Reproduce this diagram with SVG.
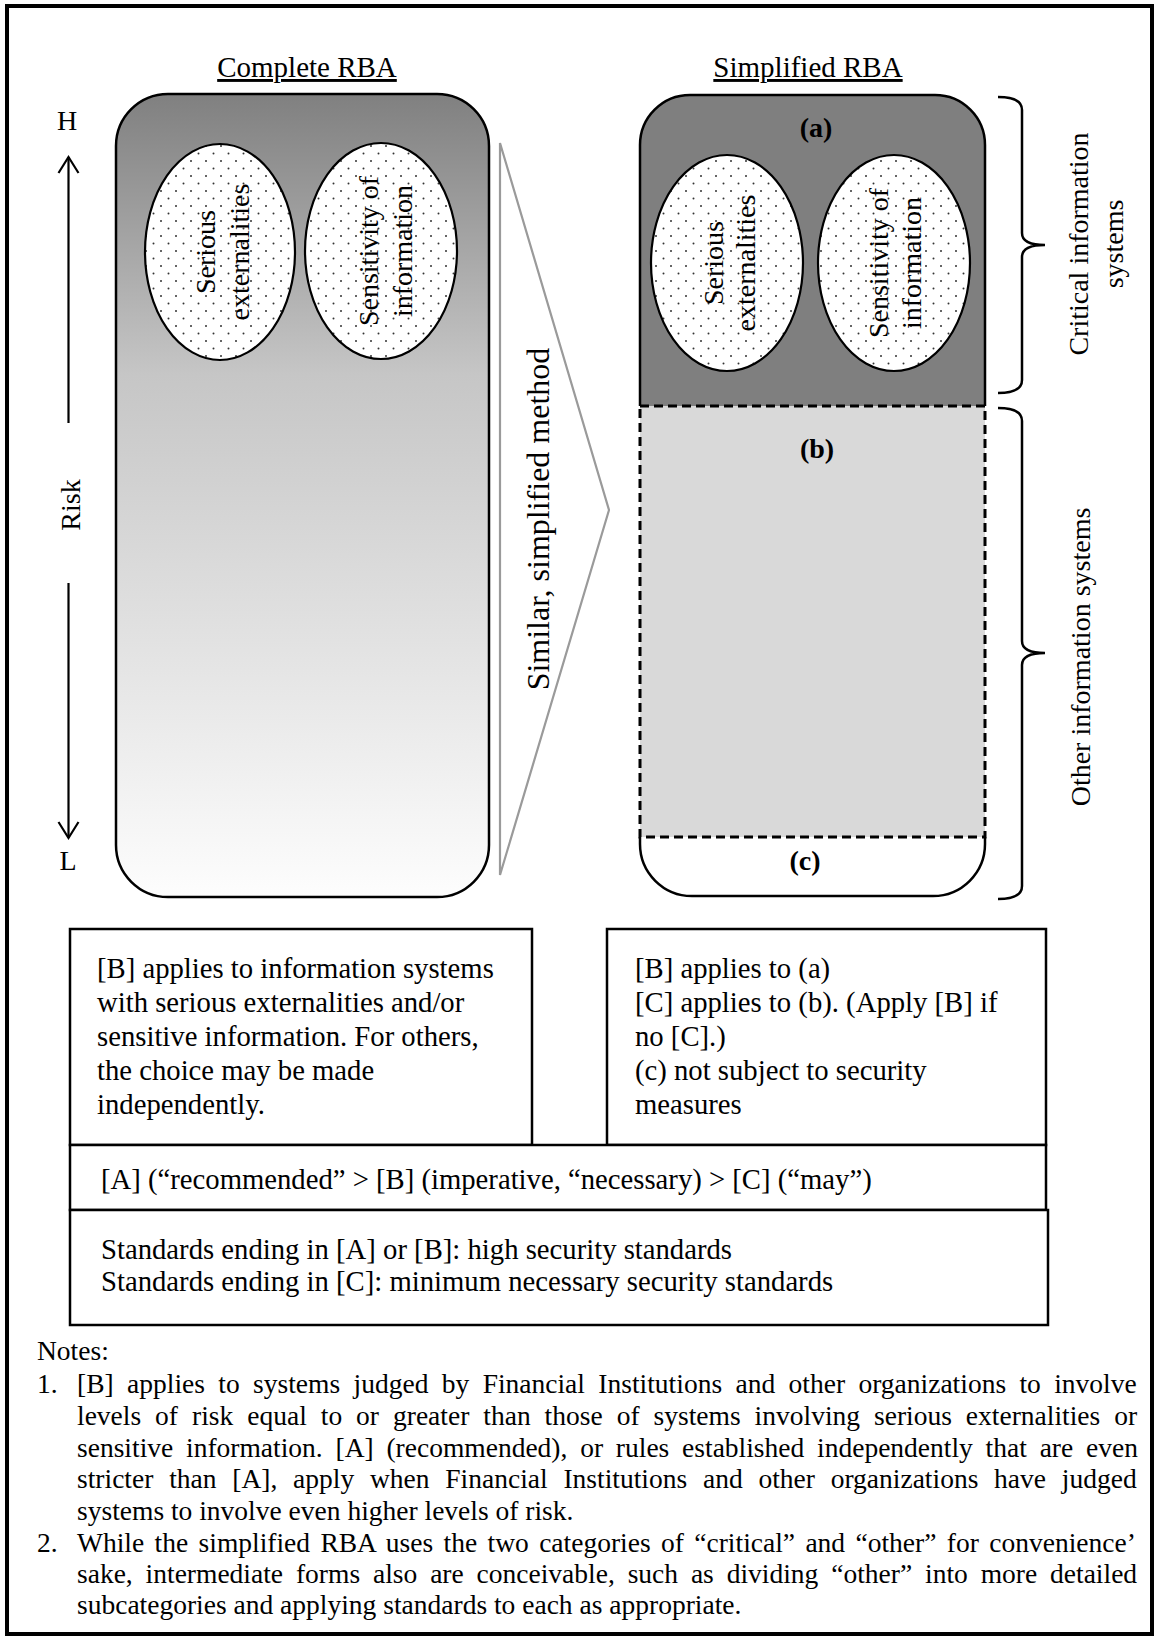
<svg xmlns="http://www.w3.org/2000/svg" width="1159" height="1639" viewBox="0 0 1159 1639">
  <style>
    text { font-family: "Liberation Serif", "Times New Roman", serif; fill: #000; }
    .title { font-size: 29px; text-decoration: underline; text-anchor: middle; }
    .lbl { font-size: 28px; }
    .mid { text-anchor: middle; }
    .bold { font-weight: bold; }
    .box { fill: #fff; stroke: #000; stroke-width: 2.5; }
    .body { font-size: 28.7px; }
    .note { font-size: 27.5px; }
    .oval { fill: url(#dots); stroke: #000; stroke-width: 2.2; }
    .brace { fill: none; stroke: #000; stroke-width: 2.5; }
    .axis { fill: none; stroke: #000; stroke-width: 2.2; marker-end: url(#openHead); }
  </style>
  <defs>
    <linearGradient id="riskFade" x1="0" y1="0" x2="0" y2="1">
      <stop offset="0" stop-color="#808080"/>
      <stop offset="0.35" stop-color="#c6c6c6"/>
      <stop offset="1" stop-color="#fdfdfd"/>
    </linearGradient>
    <pattern id="dots" width="15" height="15" patternUnits="userSpaceOnUse">
      <rect width="15" height="15" fill="#fff"/>
      <circle cx="3.5" cy="3.5" r="1" fill="#333"/>
      <circle cx="11" cy="11" r="1" fill="#333"/>
    </pattern>
    <marker id="openHead" markerUnits="userSpaceOnUse" viewBox="-20 -12 24 24" refX="0" refY="0" markerWidth="24" markerHeight="24" orient="auto" overflow="visible">
      <path d="M-16,-10 L0,0 L-16,10" fill="none" stroke="#000" stroke-width="2.2"/>
    </marker>
  </defs>

  <!-- page frame -->
  <rect x="7" y="6" width="1145" height="1628" fill="#fff" stroke="#000" stroke-width="4"/>

  <!-- column headings -->
  <text class="title" x="307" y="77">Complete RBA</text>
  <text class="title" x="808" y="77">Simplified RBA</text>

  <!-- risk axis -->
  <g id="risk-axis">
    <text class="lbl mid" x="67" y="130">H</text>
    <text class="lbl mid" x="68" y="870">L</text>
    <text class="lbl mid" transform="translate(80,505) rotate(-90)">Risk</text>
  </g>

  <!-- complete RBA panel -->
  <g id="complete-rba">
    <rect x="116" y="94" width="373" height="803" rx="52" ry="52" fill="url(#riskFade)" stroke="#000" stroke-width="2.5"/>
    <g id="complete-externalities">
      <ellipse class="oval" cx="220" cy="252" rx="75" ry="108"/>
      <text class="lbl mid" transform="translate(220,252) rotate(-90)"><tspan x="0" y="-5">Serious</tspan><tspan x="0" y="29">externalities</tspan></text>
    </g>
    <g id="complete-sensitivity">
      <ellipse class="oval" cx="381" cy="251" rx="76" ry="108"/>
      <text class="lbl mid" transform="translate(381,251) rotate(-90)"><tspan x="0" y="-3">Sensitivity of</tspan><tspan x="0" y="31">information</tspan></text>
    </g>
  </g>

  <!-- simplification wedge -->
  <g id="simplification">
    <polygon points="500,143 609,510 500,875" fill="none" stroke="#9a9a9a" stroke-width="2.2"/>
    <text class="mid" font-size="32" transform="translate(549,519) rotate(-90)">Similar, simplified method</text>
  </g>

  <!-- simplified RBA panel -->
  <g id="simplified-rba">
    <g id="tier-a">
      <path d="M640,406 L640,145 A50,50 0 0 1 690,95 L935,95 A50,50 0 0 1 985,145 L985,406 Z" fill="#7f7f7f"/>
      <path d="M640,406 L640,145 A50,50 0 0 1 690,95 L935,95 A50,50 0 0 1 985,145 L985,406" fill="none" stroke="#000" stroke-width="2.5"/>
      <text class="lbl mid bold" x="816" y="137">(a)</text>
    </g>
    <g id="tier-c">
      <path d="M640,837 L640,844 A52,52 0 0 0 692,896 L933,896 A52,52 0 0 0 985,844 L985,837" fill="#fff" stroke="#000" stroke-width="2.5"/>
      <text class="lbl mid bold" x="805" y="870">(c)</text>
    </g>
    <g id="tier-b">
      <rect x="640" y="406" width="345" height="431" fill="#d9d9d9" stroke="#000" stroke-width="3" stroke-dasharray="9 5"/>
      <text class="lbl mid bold" x="817" y="458">(b)</text>
    </g>
    <g id="simplified-externalities">
      <ellipse class="oval" cx="727" cy="263" rx="76" ry="108"/>
      <text class="lbl mid" transform="translate(727,263) rotate(-90)"><tspan x="0" y="-4">Serious</tspan><tspan x="0" y="28">externalities</tspan></text>
    </g>
    <g id="simplified-sensitivity">
      <ellipse class="oval" cx="894" cy="263" rx="76" ry="108"/>
      <text class="lbl mid" transform="translate(894,263) rotate(-90)"><tspan x="0" y="-6">Sensitivity of</tspan><tspan x="0" y="27">information</tspan></text>
    </g>
  </g>

  <!-- category braces -->
  <g id="critical-systems">
    <path class="brace" d="M998,97 Q1022,97 1022,110 L1022,233 Q1022,245 1045,245 Q1022,245 1022,257 L1022,380 Q1022,393 998,393"/>
    <text class="lbl mid" transform="translate(1088,244) rotate(-90)"><tspan x="0" y="0">Critical information</tspan><tspan x="0" y="35">systems</tspan></text>
  </g>
  <g id="other-systems">
    <path class="brace" d="M998,408 Q1022,408 1022,421 L1022,641 Q1022,653 1045,653 Q1022,653 1022,665 L1022,886 Q1022,899 998,899"/>
    <text class="lbl mid" transform="translate(1090,657) rotate(-90)">Other information systems</text>
  </g>

  <!-- connectors: risk direction arrows -->
  <g id="connectors">
    <line class="axis" x1="68.5" y1="423" x2="68.5" y2="157"/>
    <line class="axis" x1="68.5" y1="583" x2="68.5" y2="838"/>
  </g>

  <!-- rule boxes -->
  <g id="complete-rule">
    <rect class="box" x="70" y="929" width="462" height="216"/>
    <text class="body" x="97"><tspan x="97" y="978">[B] applies to information systems</tspan><tspan x="97" y="1012">with serious externalities and/or</tspan><tspan x="97" y="1046">sensitive information. For others,</tspan><tspan x="97" y="1080">the choice may be made</tspan><tspan x="97" y="1114">independently.</tspan></text>
  </g>
  <g id="simplified-rule">
    <rect class="box" x="607" y="929" width="439" height="216"/>
    <text class="body" x="635"><tspan x="635" y="978">[B] applies to (a)</tspan><tspan x="635" y="1012">[C] applies to (b). (Apply [B] if</tspan><tspan x="635" y="1046">no [C].)</tspan><tspan x="635" y="1080">(c) not subject to security</tspan><tspan x="635" y="1114">measures</tspan></text>
  </g>
  <g id="rule-order">
    <rect class="box" x="70" y="1145" width="976" height="65"/>
    <text class="body" x="101" y="1189">[A] (“recommended” &gt; [B] (imperative, “necessary) &gt; [C] (“may”)</text>
  </g>
  <g id="standard-levels">
    <rect class="box" x="70" y="1210" width="978" height="115"/>
    <text class="body" x="101"><tspan x="101" y="1259">Standards ending in [A] or [B]: high security standards</tspan><tspan x="101" y="1291">Standards ending in [C]: minimum necessary security standards</tspan></text>
  </g>

  <!-- notes (justified lines carry their own word spacing) -->
  <g id="notes">
    <text class="note" x="37" y="1360">Notes:</text>
    <text class="note" x="37" y="1393">1.</text>
    <text class="note" x="77" y="1393" word-spacing="6.5">[B] applies to systems judged by Financial Institutions and other organizations to involve</text>
    <text class="note" x="77" y="1425" word-spacing="7.1">levels of risk equal to or greater than those of systems involving serious externalities or</text>
    <text class="note" x="77" y="1457" word-spacing="5.9">sensitive information. [A] (recommended), or rules established independently that are even</text>
    <text class="note" x="77" y="1488" word-spacing="8.9">stricter than [A], apply when Financial Institutions and other organizations have judged</text>
    <text class="note" x="77" y="1520">systems to involve even higher levels of risk.</text>
    <text class="note" x="37" y="1552">2.</text>
    <text class="note" x="77" y="1552" word-spacing="3.5">While the simplified RBA uses the two categories of “critical” and “other” for convenience’</text>
    <text class="note" x="77" y="1583" word-spacing="6.0">sake, intermediate forms also are conceivable, such as dividing “other” into more detailed</text>
    <text class="note" x="77" y="1614">subcategories and applying standards to each as appropriate.</text>
  </g>
</svg>
